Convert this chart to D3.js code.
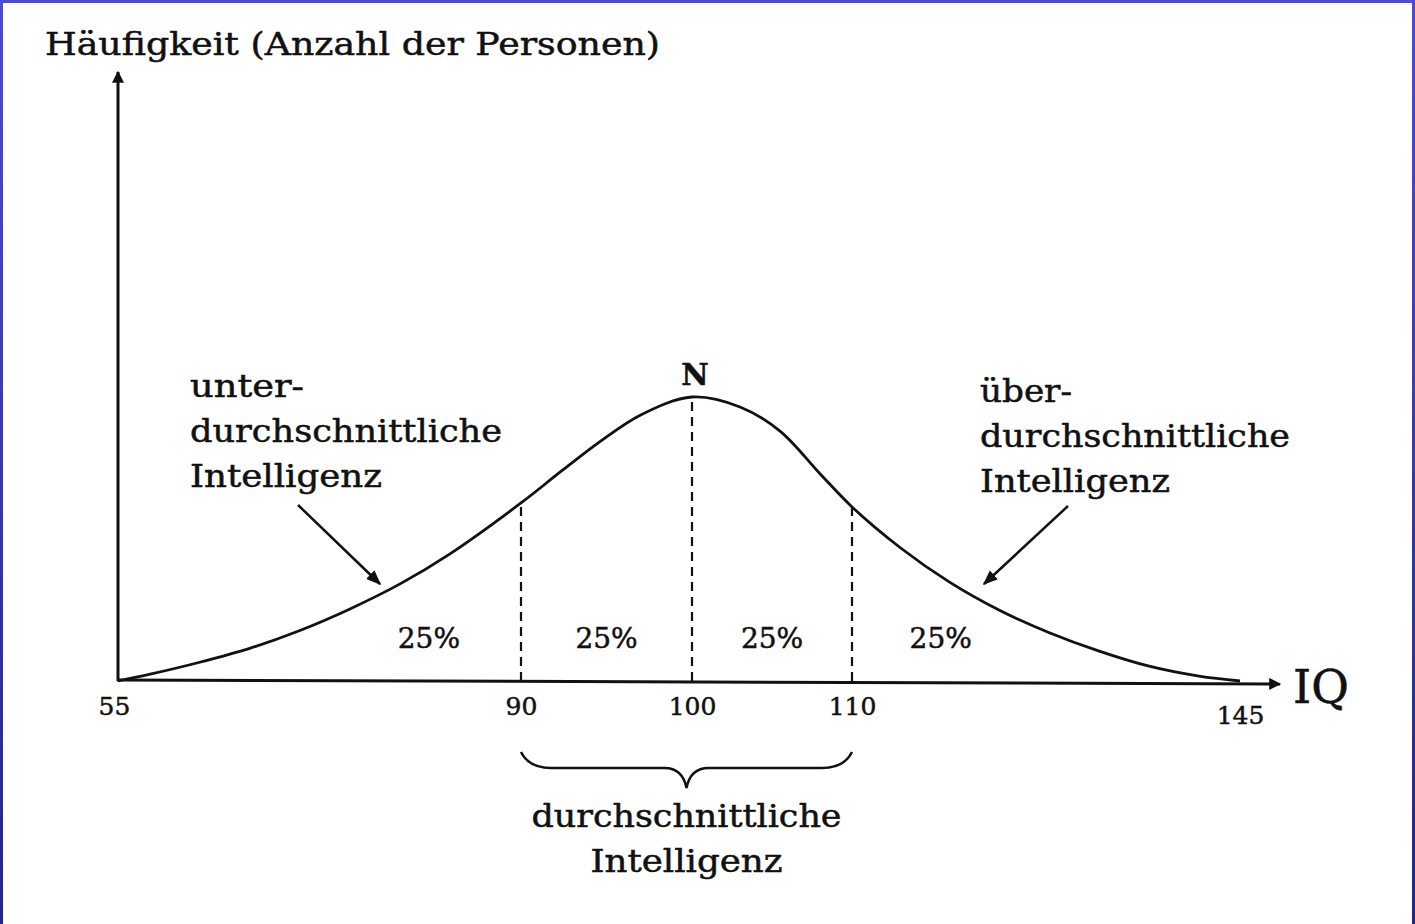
<!DOCTYPE html>
<html>
<head>
<meta charset="utf-8">
<script src="https://cdn.jsdelivr.net/npm/d3@7"></script>
<style>
  html, body { margin: 0; padding: 0; background: #ffffff; }
  svg { display: block; }
  text { font-family: "DejaVu Serif", "Liberation Serif", serif; fill: #111; stroke: #111; stroke-width: 0.5px; }
</style>
</head>
<body>
<svg id="chart" width="1415" height="924"></svg>
<script>
// IQ values along the curve and the relative frequency (peak = 100)
const iqPoints   = [55, 57.8, 62.1, 66.5, 70.8, 75.1, 79.5, 83.8, 90, 92.3, 94.6, 97, 100,
                    103, 105.5, 108, 110, 114.3, 118.8, 123.3, 127.8, 132.3, 136.8, 141.3, 145];
const freqPoints = [0, 2.4, 6.6, 11.6, 17.8, 25.3, 34.2, 44.7, 62.7, 73.6, 84.2, 93.7, 100,
                    96.5, 88.0, 73.0, 61.3, 47.1, 34.8, 24.9, 17.0, 10.5, 5.2, 1.7, 0];

// Quartile boundaries and labelled tick values
const boundaries = [90, 100, 110];
const tickValues = [55, 90, 100, 110, 145];
const shareLabels = ["25%", "25%", "25%", "25%"];
const shareCenters = [82, 95, 105, 118];

const svg = d3.select("#chart");
const W = 1415, H = 924;

// Border: blue frame on top, left and right
const defs = svg.append("defs");
const grad = defs.append("linearGradient").attr("id", "side").attr("x1", 0).attr("y1", 0).attr("x2", 0).attr("y2", 1);
grad.append("stop").attr("offset", "0%").attr("stop-color", "#4b4bd8");
grad.append("stop").attr("offset", "100%").attr("stop-color", "#20268a");
svg.append("rect").attr("x", 0).attr("y", 0).attr("width", W).attr("height", 3).attr("fill", "#4b4bd8");
svg.append("rect").attr("x", 0).attr("y", 0).attr("width", 3).attr("height", H).attr("fill", "url(#side)");
svg.append("rect").attr("x", W - 3).attr("y", 0).attr("width", 3).attr("height", H).attr("fill", "url(#side)");

// Arrowheads
defs.append("marker").attr("id", "arrow")
  .attr("viewBox", "0 0 10 10").attr("refX", 9).attr("refY", 5)
  .attr("markerWidth", 6).attr("markerHeight", 6).attr("markerUnits", "strokeWidth")
  .attr("orient", "auto")
  .append("path").attr("d", "M0,1 L10,5 L0,9 Z").attr("fill", "#111");
defs.append("marker").attr("id", "arrowAxis")
  .attr("viewBox", "0 0 10 10").attr("refX", 9).attr("refY", 5)
  .attr("markerWidth", 5).attr("markerHeight", 4).attr("markerUnits", "strokeWidth")
  .attr("orient", "auto")
  .append("path").attr("d", "M0,0 L10,5 L0,10 Z").attr("fill", "#111");

// Schematic scale: the central band is drawn wider than the tails
const x = d3.scaleLinear()
  .domain([55, 90, 100, 110, 145])
  .range([118, 521, 692, 852, 1240]);
const baseY = 681;
const y = d3.scaleLinear().domain([0, 100]).range([baseY, 397]);

// Axes with arrows
svg.append("line")
  .attr("x1", x(55)).attr("y1", baseY).attr("x2", x(55)).attr("y2", 72)
  .attr("stroke", "#111").attr("stroke-width", 3).attr("marker-end", "url(#arrowAxis)");
svg.append("line")
  .attr("x1", x(55) - 1).attr("y1", baseY - 1).attr("x2", 1280).attr("y2", baseY + 3)
  .attr("stroke", "#111").attr("stroke-width", 3).attr("marker-end", "url(#arrowAxis)");

// Tick labels through a bottom axis
const axis = d3.axisBottom(x).tickValues(tickValues).tickSize(0).tickPadding(13)
  .tickFormat(d3.format("d"));
const gAxis = svg.append("g").attr("transform", `translate(0,${baseY})`).call(axis);
gAxis.select(".domain").remove();
gAxis.selectAll("text")
  .style("font-family", "'DejaVu Serif', serif")
  .style("font-size", "25px")
  .attr("fill", "#111")
  .attr("dx", d => d === 55 ? -4 : 0)
  .attr("dy", d => d === 145 ? "1.2em" : "0.85em");

// Dashed quartile lines up to the curve
const freqAt = v => freqPoints[iqPoints.indexOf(v)];
svg.selectAll("line.q").data(boundaries).join("line")
  .attr("class", "q")
  .attr("x1", d => x(d)).attr("x2", d => x(d))
  .attr("y1", baseY).attr("y2", d => y(freqAt(d)))
  .attr("stroke", "#111").attr("stroke-width", 2.2).attr("stroke-dasharray", "9,6");

// Bell curve
const line = d3.line().x((d, i) => x(iqPoints[i])).y(d => y(d)).curve(d3.curveCatmullRom.alpha(0.5));
svg.append("path").datum(freqPoints)
  .attr("d", line)
  .attr("fill", "none").attr("stroke", "#111").attr("stroke-width", 2.8);

// Peak label
svg.append("text").attr("x", x(100) + 3).attr("y", 385)
  .attr("text-anchor", "middle").style("font-size", "30px").style("font-weight", "bold").text("N");

// Share labels
svg.selectAll("text.share").data(shareLabels).join("text")
  .attr("class", "share")
  .attr("x", (d, i) => x(shareCenters[i]))
  .attr("y", 648)
  .attr("text-anchor", "middle")
  .style("font-size", "28px")
  .text(d => d);

// Axis titles
svg.append("text").attr("x", 45).attr("y", 55)
  .style("font-size", "32px")
  .attr("textLength", 615).attr("lengthAdjust", "spacingAndGlyphs")
  .text("Häufigkeit (Anzahl der Personen)");
svg.append("text").attr("x", 1293).attr("y", 703)
  .style("font-size", "46px").text("IQ");

// Side annotations
function block(lines, x0, y0, widths) {
  lines.forEach((t, i) => {
    svg.append("text").attr("x", x0).attr("y", y0 + i * 45)
      .style("font-size", "31px")
      .attr("textLength", widths[i]).attr("lengthAdjust", "spacingAndGlyphs")
      .text(t);
  });
}
block(["unter-", "durchschnittliche", "Intelligenz"], 190, 397, [114, 312, 192]);
block(["über-", "durchschnittliche", "Intelligenz"], 980, 402, [92, 310, 190]);

svg.append("line").attr("x1", 298).attr("y1", 505).attr("x2", 380).attr("y2", 584)
  .attr("stroke", "#111").attr("stroke-width", 2.5).attr("marker-end", "url(#arrow)");
svg.append("line").attr("x1", 1068).attr("y1", 506).attr("x2", 984).attr("y2", 584)
  .attr("stroke", "#111").attr("stroke-width", 2.5).attr("marker-end", "url(#arrow)");

// Brace under the central band
const bx0 = x(90), bx1 = x(110), bm = (bx0 + bx1) / 2;
const brace = d3.path();
brace.moveTo(bx0, 752);
brace.quadraticCurveTo(bx0 + 8, 768, bx0 + 30, 768);
brace.lineTo(bm - 22, 768);
brace.quadraticCurveTo(bm - 4, 768, bm, 788);
brace.quadraticCurveTo(bm + 4, 768, bm + 22, 768);
brace.lineTo(bx1 - 30, 768);
brace.quadraticCurveTo(bx1 - 8, 768, bx1, 752);
svg.append("path").attr("d", brace.toString())
  .attr("fill", "none").attr("stroke", "#111").attr("stroke-width", 2.5);

svg.append("text").attr("x", bm).attr("y", 827).attr("text-anchor", "middle")
  .style("font-size", "31px").attr("textLength", 310).attr("lengthAdjust", "spacingAndGlyphs")
  .text("durchschnittliche");
svg.append("text").attr("x", bm).attr("y", 872).attr("text-anchor", "middle")
  .style("font-size", "31px").attr("textLength", 192).attr("lengthAdjust", "spacingAndGlyphs")
  .text("Intelligenz");
</script>
</body>
</html>
